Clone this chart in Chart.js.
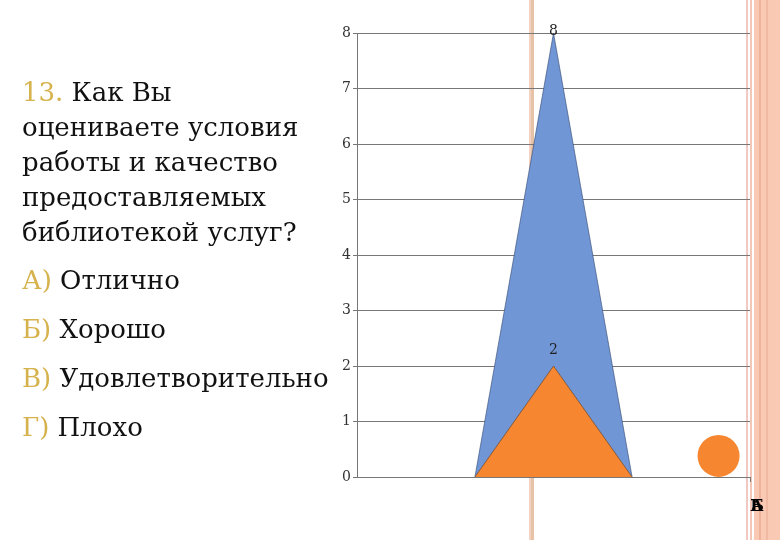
<!DOCTYPE html>
<html>
<head>
<meta charset="utf-8">
<script src="https://cdn.jsdelivr.net/npm/chart.js@4"></script>
<style>
  html, body { margin: 0; padding: 0; background: #fff; }
  #slide { position: relative; width: 780px; height: 540px; overflow: hidden; font-family: "DejaVu Serif", serif; }
  .stripe { position: absolute; top: 0; height: 540px; }
  #chartBox { position: absolute; left: 0; top: 0; width: 780px; height: 540px; }
  #question { position: absolute; left: 22px; top: 75px; font-size: 26px; line-height: 35px; color: #111; }
  .opt { position: absolute; left: 22px; font-size: 26px; line-height: 30px; color: #111; white-space: nowrap; }
  .mark { color: #d6b24c; }
</style>
</head>
<body>
<div id="slide">
  <div class="stripe" style="left:529px;width:2px;background:#f3d2c4"></div>
  <div class="stripe" style="left:531px;width:3px;background:#e6c2a6"></div>
  <div class="stripe" style="left:746px;width:2px;background:#f2c9c2"></div>
  <div class="stripe" style="left:750px;width:2px;background:#f4c6b8"></div>
  <div class="stripe" style="left:754px;width:26px;background:#f9c9b4"></div>
  <div class="stripe" style="left:759px;width:2px;background:#eeb49b"></div>
  <div class="stripe" style="left:766px;width:2px;background:#f0b9a1"></div>
  <div id="chartBox"><canvas id="chart"></canvas></div>
  <div id="question"><span class="mark">13.</span> Как Вы<br>оцениваете условия<br>работы и качество<br>предоставляемых<br>библиотекой услуг?</div>
  <div class="opt" style="top:265px"><span class="mark">А)</span> Отлично</div>
  <div class="opt" style="top:314px"><span class="mark">Б)</span> Хорошо</div>
  <div class="opt" style="top:363px"><span class="mark">В)</span> Удовлетворительно</div>
  <div class="opt" style="top:412px"><span class="mark">Г)</span> Плохо</div>
</div>
<script>
// values
const seriesNames = ["Отлично", "Хорошо", "Удовлетворительно"];
const seriesValues = [8, 2, 0.38];
const seriesColors = ["#7096d6", "#f6862f", "#f6862f"];
const coneX = [3, 5, 7];      // left foot, top, right foot of the cones
const bubbleX = 9.2;
const xTickLabels = ["А", "Б"];

function cone(value) {
  return [{ x: coneX[0], y: 0 }, { x: coneX[1], y: value }, { x: coneX[2], y: 0 }];
}

// value labels above the cone tops
const peakLabels = {
  id: "peakLabels",
  afterDatasetsDraw(chart) {
    const ctx = chart.ctx;
    ctx.save();
    ctx.font = "14px 'DejaVu Serif', serif";
    ctx.fillStyle = "#222";
    ctx.textAlign = "center";
    ctx.textBaseline = "middle";
    [0, 1].forEach((i) => {
      const pt = chart.getDatasetMeta(i).data[1];
      const v = chart.data.datasets[i].data[1].y;
      const y = Math.max(pt.y - 16, chart.chartArea.top - 2);
      ctx.fillText(String(v), pt.x, y);
    });
    ctx.restore();
  },
};

new Chart(document.getElementById("chart"), {
  type: "line",
  data: {
    datasets: [
      {
        label: seriesNames[1],
        data: cone(seriesValues[1]),
        backgroundColor: seriesColors[1],
        borderColor: "rgba(110,70,40,0.7)",
        borderWidth: 1,
        fill: "origin",
        pointRadius: 0,
        tension: 0,
        order: 1,
      },
      {
        label: seriesNames[0],
        data: cone(seriesValues[0]),
        backgroundColor: seriesColors[0],
        borderColor: "rgba(50,70,110,0.6)",
        borderWidth: 1,
        fill: "origin",
        pointRadius: 0,
        tension: 0,
        order: 2,
      },
      {
        type: "scatter",
        label: seriesNames[2],
        data: [{ x: bubbleX, y: seriesValues[2] }],
        backgroundColor: seriesColors[2],
        borderWidth: 0,
        pointRadius: 21,
        order: 0,
      },
    ],
  },
  options: {
    responsive: true,
    maintainAspectRatio: false,
    animation: false,
    layout: { padding: { left: 327, top: 33, right: 30, bottom: 0 } },
    plugins: { legend: { display: false }, tooltip: { enabled: false } },
    scales: {
      x: {
        type: "linear",
        min: 0,
        max: 10,
        afterFit(scale) { scale.height = 63; },
        afterBuildTicks(scale) {
          scale.ticks = xTickLabels.map(() => ({ value: 10 }));
        },
        grid: { drawOnChartArea: false, drawTicks: true, tickLength: 5, color: "#777" },
        border: { color: "#777" },
        ticks: {
          autoSkip: false,
          maxRotation: 0,
          labelOffset: 7,
          padding: 15,
          color: "#000",
          font: { family: "'DejaVu Serif', serif", size: 16, weight: "bold" },
          callback: (value, index) => xTickLabels[index],
        },
      },
      y: {
        min: 0,
        max: 8,
        afterFit(scale) { scale.width = 30; },
        grid: { color: "#777", lineWidth: 1, tickLength: 4 },
        border: { color: "#777" },
        ticks: {
          stepSize: 1,
          padding: 2,
          color: "#333",
          font: { family: "'DejaVu Serif', serif", size: 14 },
        },
      },
    },
  },
  plugins: [peakLabels],
});
</script>
</body>
</html>
